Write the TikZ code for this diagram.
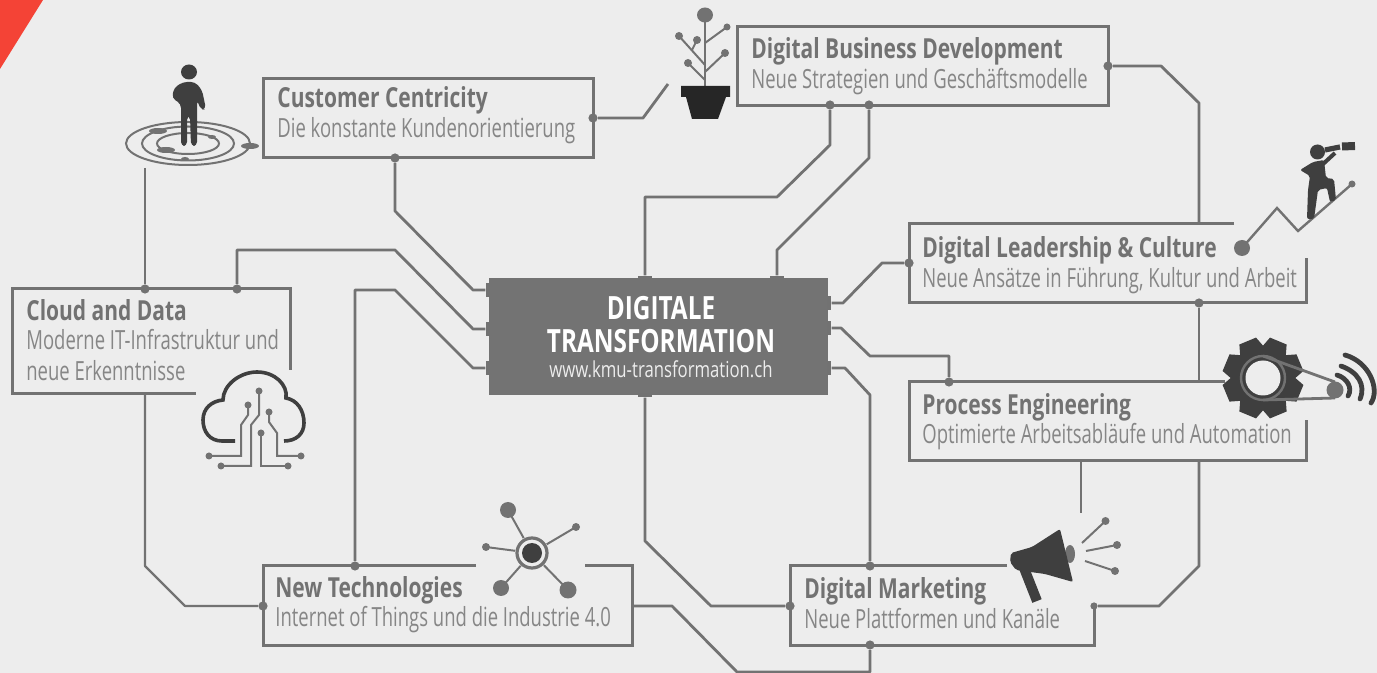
\documentclass[tikz,border=0pt]{standalone}
\usepackage{fontspec}
\setmainfont{Open Sans}[FakeStretch=0.76]
\newfontfamily\thinfont{Open Sans}[FakeStretch=0.70]
\definecolor{paper}{HTML}{EDEDED}
\definecolor{line}{HTML}{727272}
\definecolor{icon}{HTML}{3F3F3F}
\definecolor{soft}{HTML}{727272}
\definecolor{softer}{HTML}{868686}
\definecolor{mainbg}{HTML}{737373}
\definecolor{signal}{HTML}{F44336}
\tikzset{
    frame/.style={draw=line, line width=1.5pt},
    conn/.style={draw=line, line width=1.4pt, line join=round},
    dot/.style={circle, fill=line, inner sep=0pt, minimum size=4.6pt},
    portv/.style={rectangle, fill=line, inner sep=0pt, minimum width=7pt, minimum height=2.2pt},
    porth/.style={rectangle, fill=line, inner sep=0pt, minimum width=2.2pt, minimum height=7pt},
    headline/.style={anchor=base west, inner sep=0pt, text=soft, font=\fontsize{13.8}{13.8}\selectfont\bfseries},
    subline/.style={anchor=base west, inner sep=0pt, text=softer, font=\thinfont\fontsize{13.2}{13.2}\selectfont},
    maintext/.style={anchor=base, inner sep=0pt, text=white, font=\fontsize{16}{16}\selectfont\bfseries},
    twig/.style={draw=line, line width=1pt},
}
\begin{document}
\begin{tikzpicture}[x=0.5pt,y=-0.5pt]
    \useasboundingbox (0,0) rectangle (1377,673);
    \fill[paper] (0,0) rectangle (1377,673);
    \fill[signal] (0,0) -- (43,0) -- (0,69) -- cycle;

    % Draw the boxes
    \node[frame, minimum width=165pt, minimum height=39.5pt, inner sep=0pt] (customer) at (428,118.5) {};
    \node[frame, minimum width=185.5pt, minimum height=39.5pt, inner sep=0pt] (business) at (922.5,66) {};
    \draw[frame] (290,370) -- (290,289) -- (12,289) -- (12,394) -- (196,394);
    \draw[frame] (1234,224) -- (909,224) -- (909,303) -- (1306,303) -- (1306,258);
    \draw[frame] (1225,382) -- (909,382) -- (909,461) -- (1306,461) -- (1306,420);
    \draw[frame] (476,566) -- (263,566) -- (263,645) -- (632,645) -- (632,566) -- (585,566);
    \draw[frame] (1007,566) -- (790,566) -- (790,645) -- (1094,645) -- (1094,606);
    \node[fill=mainbg, minimum width=169.5pt, minimum height=58.5pt, inner sep=0pt] (main) at (658.5,336.5) {};

    % Dots on the boxes
    \node[dot] (customerR) at (593,118) {};
    \node[dot] (customerB) at (395,158) {};
    \node[dot] (businessL) at (830,105) {};
    \node[dot] (businessM) at (869,105) {};
    \node[dot] (businessR) at (1108,66) {};
    \node[dot] (cloudA) at (145,289) {};
    \node[dot] (cloudB) at (237,289) {};
    \node[dot] (leaderL) at (909,263) {};
    \node[dot] (leaderB) at (1199,303) {};
    \node[dot] (processT) at (949,382) {};
    \node[dot] (techT) at (355,566) {};
    \node[dot] (techL) at (263,606) {};
    \node[dot] (marketT) at (870,566) {};
    \node[dot] (marketL) at (790,606) {};
    \node[dot] (marketB) at (870,645) {};
    \node[dot, minimum size=3.6pt] (marketR) at (1094,606) {};

    % Ports on the main box
    \node[porth] (portA) at (488,290) {};
    \node[porth] (portB) at (488,329) {};
    \node[porth] (portC) at (488,368) {};
    \node[portv] (portD) at (645,278) {};
    \node[portv] (portE) at (777,278) {};
    \node[portv] (portF) at (645,395) {};
    \node[porth] (portG) at (829,303) {};
    \node[porth] (portH) at (829,328) {};
    \node[porth] (portI) at (829,368) {};

    % Free ends
    \coordinate (plantEnd) at (668,84);
    \coordinate (personEnd) at (145,168);
    \coordinate (cloudEnd) at (145,394);
    \coordinate (techEnd) at (632,606);
    \coordinate (speakerEnd) at (1081,513);
    \coordinate (processEnd) at (1081,461);
    \coordinate (processB) at (1199,461);
    \coordinate (processT2) at (1199,382);
    \coordinate (leaderT) at (1199,224);

    % Draw the connectors
    \draw[conn] (customerR) -- (643,118) -- (plantEnd);
    \draw[conn] (customerB) -- (395,211) -- (473,290) -- (portA);
    \draw[conn] (cloudB) -- (237,250) -- (395,250) -- (473,329) -- (portB);
    \draw[conn] (techT) -- (355,290) -- (395,290) -- (473,368) -- (portC);
    \draw[conn, line width=1.1pt] (personEnd) -- (cloudA);
    \draw[conn, line width=1.1pt] (cloudEnd) -- (145,566) -- (185,606) -- (techL);
    \draw[conn] (businessL) -- (830,145) -- (777,197) -- (645,197) -- (portD);
    \draw[conn] (businessM) -- (869,158) -- (777,250) -- (portE);
    \draw[conn] (businessR) -- (1161,66) -- (1199,103) -- (leaderT);
    \draw[conn] (portG) -- (843,303) -- (882,263) -- (leaderL);
    \draw[conn] (portH) -- (841,328) -- (870,356) -- (949,356) -- (processT);
    \draw[conn] (portI) -- (845,368) -- (870,395) -- (marketT);
    \draw[conn] (leaderB) -- (processT2);
    \draw[conn] (processEnd) -- (speakerEnd);
    \draw[conn] (processB) -- (1199,566) -- (1159,606) -- (marketR);
    \draw[conn] (portF) -- (645,541) -- (711,606) -- (marketL);
    \draw[conn] (techEnd) -- (672,606) -- (737,672) -- (870,672) -- (marketB);

    % Label the boxes
    \node[headline] (customerHead) at (277,108) {Customer Centricity};
    \node[subline] (customerSub) at (277,138) {Die konstante Kundenorientierung};
    \node[headline] (businessHead) at (751,59) {Digital Business Development};
    \node[subline] (businessSub) at (751,89) {Neue Strategien und Geschäftsmodelle};
    \node[headline] (cloudHead) at (26,321) {Cloud and Data};
    \node[subline] (cloudSubA) at (26,350) {Moderne IT-Infrastruktur und};
    \node[subline] (cloudSubB) at (26,381) {neue Erkenntnisse};
    \node[headline] (leaderHead) at (922,258) {Digital Leadership \& Culture};
    \node[subline] (leaderSub) at (922,288) {Neue Ansätze in Führung, Kultur und Arbeit};
    \node[headline] (processHead) at (922,415) {Process Engineering};
    \node[subline] (processSub) at (922,444) {Optimierte Arbeitsabläufe und Automation};
    \node[headline] (techHead) at (275,597) {New Technologies};
    \node[subline] (techSub) at (275,626) {Internet of Things und die Industrie 4.0};
    \node[headline] (marketHead) at (804,598) {Digital Marketing};
    \node[subline] (marketSub) at (804,629) {Neue Plattformen und Kanäle};
    \node[maintext] (mainA) at (661,320) {DIGITALE};
    \node[maintext] (mainB) at (661,353) {TRANSFORMATION};
    \node[maintext, font=\fontsize{11}{11}\selectfont, text=paper] (mainC) at (661,378) {www.kmu-transformation.ch};

    % Person on the rings
    \draw[line, line width=1pt] (188,143.5) ellipse (62 and 21.5);
    \draw[line, line width=1pt] (188,143.5) ellipse (46 and 17);
    \draw[line, line width=1pt] (188,143.5) ellipse (31 and 10.5);
    \fill[line] (158,131) ellipse (9 and 3) (212,137) ellipse (4 and 2) (166,150) ellipse (9 and 3)
        (250,146) ellipse (9 and 3) (185,159) ellipse (4 and 2);
    \fill[icon] (189,72) ellipse (8 and 7.5);
    \fill[icon, rounded corners=2pt] (181,146) -- (181,104) -- (172,98) -- (174,88) -- (183,82) -- (195,82)
        -- (202,90) -- (206,109) -- (201,110) -- (197,100) -- (197,146) -- (191,146) -- (190,116) -- (187,116) -- (187,146) -- cycle;

    % Plant
    \draw[twig] (705,86) -- (705,15);
    \draw[twig] (705,43) -- (727,27);
    \draw[twig] (705,72) -- (725,53);
    \draw[twig] (705,80) -- (688,63);
    \draw[twig] (705,65) -- (679,36);
    \draw[twig] (692,50) -- (697,40);
    \fill[line] (705,15) ellipse (8 and 7.5);
    \fill[line] (727,27) circle (3.5) (725,53) circle (4) (688,63) circle (4) (679,36) circle (4) (697,40) circle (4);
    \fill[black!85] (681,86) -- (730,86) -- (730,97) -- (726,97) -- (718,119) -- (692,119) -- (686,97) -- (681,97) -- cycle;

    % Man with the telescope
    \draw[twig, line width=1.2pt] (1242,248) -- (1277,208) -- (1298,231) -- (1352,184);
    \fill[line] (1242,248) circle (8) (1352,184) circle (3.5);
    \fill[icon] (1317.5,152) circle (7.5);
    \draw[icon, line width=2pt] (1322,165) -- (1335,153);
    \draw[icon, line width=2.6pt] (1325,150) -- (1340,147);
    \draw[icon, line width=4pt] (1342,146.5) -- (1355,146);
    \fill[icon, rounded corners=1pt] (1313,162) -- (1324,160) -- (1326,178) -- (1334,179) -- (1336,200) -- (1330,202)
        -- (1327,188) -- (1318,190) -- (1314,219) -- (1307,219) -- (1308,190) -- (1310,176) -- (1300,170) -- cycle;

    % Gear with the belt and the signal
    \begin{scope}[shift={(1263,378)}]
        \fill[icon] (0,0) circle (32);
        \foreach \angle in {0,45,...,315}
            \fill[icon, rotate=\angle+22.5] (-9,-40) -- (9,-40) -- (13,-28) -- (-13,-28) -- cycle;
        \draw[line, line width=1.2pt] (0,0) circle (22);
        \fill[paper] (0,0) circle (17.5);
    \end{scope}
    \draw[line, line width=1.4pt] (1263,356) -- (1335,382);
    \draw[line, line width=1.4pt] (1263,400) -- (1335,398);
    \fill[line] (1335,390) circle (8.5);
    \draw[icon, line width=2.4pt, line cap=round] (1345,355) .. controls (1370,362) and (1380,390) .. (1371,403);
    \draw[icon, line width=2.4pt, line cap=round] (1341,366) .. controls (1358,372) and (1366,385) .. (1360,399);
    \draw[icon, line width=2.4pt, line cap=round] (1337,375) .. controls (1347,378) and (1353,388) .. (1348,396);

    % Megaphone
    \draw[icon, line width=5pt] (1024,568) -- (1037,601);
    \fill[line] (1070,554) ellipse (5 and 9);
    \fill[icon, rounded corners=1pt] (1011,553) -- (1032,547) -- (1060,529) -- (1073,582) -- (1045,574) -- (1016,570) -- (1010,562) -- cycle;
    \draw[twig] (1082,543) -- (1105.5,521);
    \draw[twig] (1086,551) -- (1117,545);
    \draw[twig] (1085,561) -- (1115,571);
    \fill[line] (1105.5,521) circle (4) (1117,545) circle (4) (1115,571) circle (4);

    % Network
    \draw[twig] (532,553) -- (508,510) (532,553) -- (576,527) (532,553) -- (486,547) (532,553) -- (501,588) (532,553) -- (568,590);
    \fill[paper] (532,553) circle (17);
    \draw[line, line width=1.6pt] (532,553) circle (15);
    \fill[icon] (532,553) circle (10);
    \fill[line] (508,510) ellipse (8 and 8) (576,527) circle (4) (486,547) circle (4) (501,588) circle (8) (568,590) circle (8.5);

    % Cloud
    \draw[icon, line width=1.8pt] (235,441) -- (222,441) .. controls (210,441) and (203,432) .. (203,420)
        .. controls (203,408) and (212,401) .. (223,400) .. controls (223,385) and (240,372) .. (257,372)
        .. controls (275,372) and (288,385) .. (286,398) .. controls (297,400) and (304,410) .. (304,423)
        .. controls (304,434) and (296,441) .. (284,441);
    \draw[twig] (248,405) -- (248,415) -- (241,425) -- (241,456) -- (209,456);
    \draw[twig] (259,391) -- (259,415) -- (251,425) -- (251,466) -- (221,466);
    \draw[twig] (269,412) -- (269,422) -- (277,433) -- (277,456) -- (301,456);
    \draw[twig] (261,433) -- (261,466) -- (288,466);
    \fill[line] (248,405) circle (3.5) (259,391) circle (3.5) (269,412) circle (3.5) (261,433) circle (3.5)
        (209,456) circle (3.5) (221,466) circle (3.5) (301,456) circle (3.5) (288,466) circle (3.5);
\end{tikzpicture}
\end{document}
